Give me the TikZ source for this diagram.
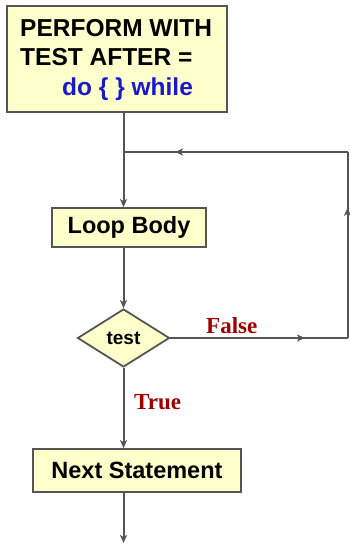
\documentclass[tikz,border=0pt]{standalone}
\usepackage{fontspec}
\setmainfont{Liberation Sans}
\newfontfamily\lblfont{Liberation Serif}
\usetikzlibrary{shapes.geometric,arrows.meta,decorations.markings}
\definecolor{boxfill}{HTML}{FFFFCC}
\definecolor{edgegray}{HTML}{555555}
\definecolor{kwblue}{HTML}{1A1ACC}
\definecolor{lblred}{HTML}{9E0000}
\begin{document}
\begin{tikzpicture}[x=1pt,y=-1pt,
  box/.style={draw=edgegray, fill=boxfill, line width=1.8pt, inner sep=0pt},
  boxtext/.style={font=\bfseries\fontsize{23.5}{28}\selectfont},
  flow/.style={color=edgegray, line width=2pt, -{Stealth[length=8pt,width=7pt,inset=2pt]}},
  midflow/.style={color=edgegray, line width=2pt, postaction={decorate,
    decoration={markings, mark=at position #1 with {\arrow{Stealth[length=8pt,width=7pt,inset=2pt]}}}}},
  condlbl/.style={font=\lblfont\bfseries\fontsize{23}{27}\selectfont, text=lblred, inner sep=0pt, anchor=base west},
  toptext/.style={font=\bfseries\fontsize{24.5}{29.5}\selectfont, inner sep=0pt, anchor=base west}
]
\useasboundingbox (0,0) rectangle (349,549);
% top box
\node[box, minimum width=220pt, minimum height=106pt] (top) at (117,59) {};
\node[toptext] (t1) at (20,36) {PERFORM WITH};
\node[toptext] (t2) at (20,65) {TEST AFTER =};
\node[toptext, text=kwblue] (t3) at (62,95) {do \{ \} while};
% loop body
\node[box, boxtext, minimum width=154pt, minimum height=39pt] (loop) at (129,227.5) {Loop Body};
% test diamond
\node[diamond, draw=edgegray, fill=boxfill, line width=1.8pt, inner sep=0pt,
      minimum width=92pt, minimum height=58pt, aspect=1.59,
      font=\bfseries\fontsize{19}{22}\selectfont] (test) at (123.5,338) {test};
% next statement
\node[box, boxtext, minimum width=208pt, minimum height=43pt] (next) at (137,470.5) {Next Statement};
% coordinates
\coordinate (j) at (123.5,152);
\coordinate (tr) at (347.5,152);
\coordinate (fr) at (347.5,338);
\coordinate (end) at (123.5,543);
% connectors
\draw[flow] (top.south -| j) -- (loop.north -| j);
\draw[flow] (loop.south -| j) -- (test.north);
\draw[flow] (test.south) -- (next.north -| test);
\draw[flow] (next.south -| test) -- (end);
\draw[midflow=0.76] (test.east) -- (fr);
\draw[midflow=0.70] (fr) -- (tr);
\draw[midflow=0.77] (tr) -- (j);
% labels
\node[condlbl] (f) at (206,333) {False};
\node[condlbl] (t) at (134,409) {True};
\end{tikzpicture}
\end{document}
